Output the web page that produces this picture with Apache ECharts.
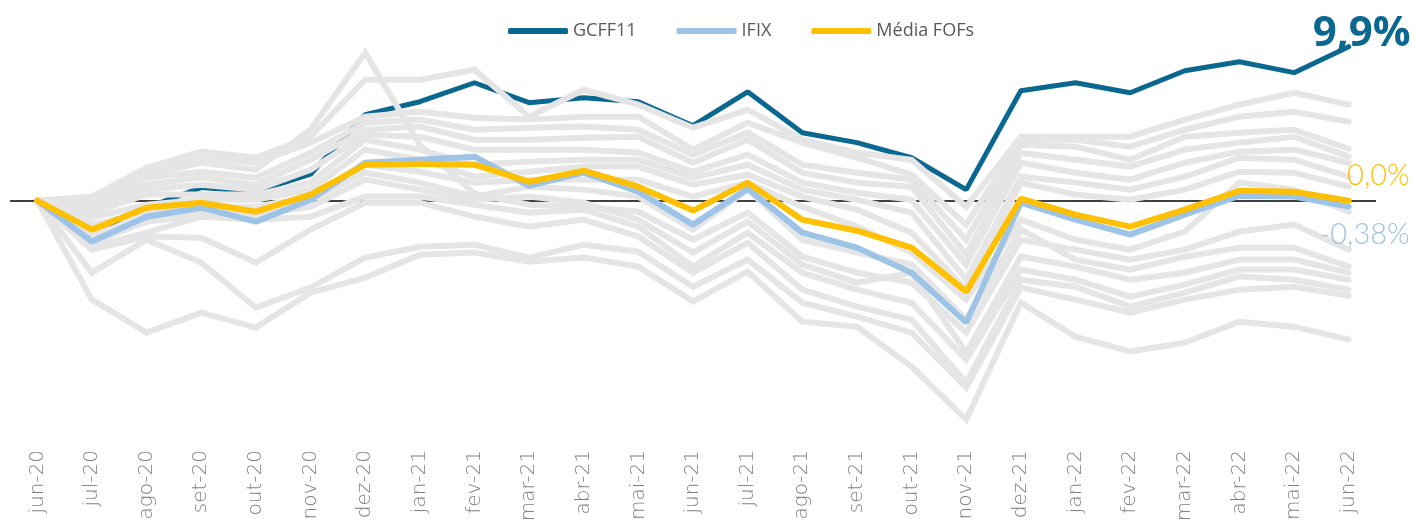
<!DOCTYPE html>
<html>
<head>
<meta charset="utf-8">
<script src="https://cdn.jsdelivr.net/npm/echarts@6/dist/echarts.min.js"></script>
<style>
  html, body { margin: 0; padding: 0; background: #fff; }
  #chart { width: 1415px; height: 527px; }
</style>
</head>
<body>
<div id="chart"></div>
<script>
// meses (eixo x)
const months = ['jun-20','jul-20','ago-20','set-20','out-20','nov-20','dez-20','jan-21','fev-21','mar-21','abr-21','mai-21',
  'jun-21','jul-21','ago-21','set-21','out-21','nov-21','dez-21','jan-22','fev-22','mar-22','abr-22','mai-22','jun-22']

// rentabilidade acumulada (%)
const gcff11 = [0, -1.99, -0.45, 0.84, 0.58, 1.7, 5.53, 6.36, 7.58, 6.30, 6.62, 6.36, 4.82, 7.0, 4.37, 3.73, 2.76, 0.71, 7.07, 7.58, 6.94, 8.35, 8.93, 8.23, 9.9]
const ifix = [0, -2.63, -1.03, -0.45, -1.35, 0.06, 2.44, 2.63, 2.83, 0.96, 1.80, 0.58, -1.54, 0.77, -2.06, -3.02, -4.63, -7.84, -0.13, -1.22, -2.18, -0.90, 0.32, 0.26, -0.38]
const mediaFofs = [0, -1.86, -0.45, -0.13, -0.71, 0.39, 2.31, 2.38, 2.31, 1.22, 1.93, 0.90, -0.64, 1.16, -1.22, -1.93, -3.02, -5.85, 0.13, -0.90, -1.67, -0.58, 0.64, 0.58, 0.0]

// rótulos no fim das linhas
const endLabels = { 'GCFF11': '9,9%', 'IFIX': '-0,38%', 'Média FOFs': '0,0%' }

// demais FOFs (linhas cinzas)
const fof01 = [0, 0.26, 2.12, 3.15, 2.76, 4.11, 7.78, 7.78, 8.42, 5.40, 7.13, 6.17, 4.69, 5.85, 3.92, 3.08, 2.63, -0.39, 4.11, 4.11, 4.11, 5.21, 6.17, 6.94, 6.17]
const fof02 = [0, 0.26, 1.86, 2.76, 2.44, 3.73, 5.40, 5.72, 5.33, 5.21, 5.40, 5.40, 3.28, 5.01, 3.73, 2.76, 1.67, -1.54, 3.92, 3.92, 3.47, 4.56, 5.40, 5.72, 5.08]
const fof03 = [0, -0.13, 1.48, 1.86, 1.48, 3.08, 5.01, 5.21, 4.56, 4.69, 4.76, 4.56, 2.96, 4.37, 2.31, 1.80, 1.35, -2.51, 3.60, 3.47, 2.63, 4.11, 4.37, 4.56, 3.34]
const fof04 = [0, -0.26, 1.03, 1.48, 1.03, 2.63, 4.56, 4.76, 3.92, 3.92, 4.05, 4.11, 2.44, 3.92, 1.80, 1.16, 0.90, -3.47, 3.08, 2.63, 2.19, 3.28, 3.73, 4.11, 2.83]
const fof05 = [0, -0.58, 0.71, 1.03, 0.71, 1.99, 4.24, 4.11, 3.28, 3.28, 3.28, 3.08, 1.86, 2.96, 1.16, 0.51, 0.06, -4.11, 2.44, 1.80, 1.35, 2.44, 3.15, 3.28, 2.44]
const fof06 = [0, -0.77, 0.39, 0.39, 0.39, 1.16, 3.92, 3.28, 2.31, 2.51, 2.63, 2.63, 1.48, 2.31, 0.71, 0.06, -0.77, -5.08, 1.54, 1.16, 0.71, 1.54, 2.76, 2.63, 1.54]
const fof07 = [0, -1.09, -0.26, 0.06, 0.06, 0.71, 3.28, 2.63, 1.54, 1.86, 2.19, 2.19, 1.03, 1.67, 0.26, -0.58, -2.06, -5.72, 1.16, 0.39, 0.06, 0.71, 1.86, 1.80, 0.90]
const fof08 = [0, -1.54, -0.77, -0.39, -0.39, 0.26, 2.31, 1.86, 1.16, 1.35, 1.35, 1.35, 0.26, 1.16, -0.39, -1.67, -3.34, -6.36, -1.22, -2.51, -3.15, -1.99, 1.16, 0.71, -0.71]
const fof09 = [0, -2.19, -1.09, -0.58, -0.58, 0.06, 1.80, 1.16, 0.26, 0.90, 0.71, 0.26, -1.86, 0.71, -2.51, -3.34, -4.11, -7.65, -1.86, -3.79, -4.43, -3.60, -3.02, -3.02, -4.24]
const fof10 = [0, -2.70, -1.35, -0.90, -0.90, -0.39, 1.35, 0.71, 0.06, 0.26, -0.13, -1.22, -3.34, -1.35, -4.11, -5.27, -4.63, -9.77, -3.60, -4.24, -5.08, -4.63, -3.79, -3.79, -4.63]
const fof11 = [0, -2.96, -2.06, -1.03, -1.22, -1.03, 0.26, 0.26, -0.26, -0.77, -0.58, -1.67, -4.24, -2.06, -4.63, -5.72, -6.56, -10.22, -4.43, -5.08, -6.17, -5.40, -4.43, -4.43, -5.08]
const fof12 = [0, -3.15, -2.31, -2.38, -3.98, -1.86, -0.13, -0.13, -1.03, -1.67, -1.22, -2.31, -4.63, -2.70, -5.72, -6.81, -7.65, -11.70, -5.08, -5.53, -6.81, -5.91, -4.88, -5.08, -5.72]
const fof13 = [0, -4.63, -2.51, -3.98, -6.88, -5.59, -3.66, -2.96, -2.83, -3.66, -2.83, -3.28, -5.53, -3.79, -6.56, -7.46, -8.48, -12.02, -5.59, -6.36, -7.20, -6.36, -5.72, -5.53, -6.11]
const fof14 = [0, -6.36, -8.48, -7.20, -8.16, -5.91, -4.95, -3.47, -3.34, -3.92, -3.66, -4.24, -6.49, -4.56, -7.78, -8.10, -10.67, -14.07, -6.56, -8.74, -9.70, -9.13, -7.78, -8.10, -8.93]
const fof15 = [0, 0.06, 1.67, 2.44, 1.99, 4.56, 9.51, 3.60, 0.45, -0.26, -0.39, -0.71, -2.51, -0.77, -3.60, -4.63, -5.27, -8.48, -2.51, -3.15, -3.79, -3.15, -1.99, -1.54, -3.15]

const outrosFofs = [fof01, fof02, fof03, fof04, fof05, fof06, fof07, fof08, fof09, fof10, fof11, fof12, fof13, fof14, fof15]

const chart = echarts.init(document.getElementById('chart'))

const greySeries = outrosFofs.map((data, i) => ({
    name: 'FOF ' + (i + 1),
    type: 'line',
    data: data,
    symbol: 'none',
    silent: true,
    lineStyle: { color: '#e5e5e5', width: 6, cap: 'round', join: 'miter' }
}))

const mainLine = (name, data, color, width, labelStyle) => ({
    name: name,
    type: 'line',
    data: data,
    symbol: 'none',
    lineStyle: { color: color, width: width, cap: 'round' },
    itemStyle: { color: color },
    endLabel: Object.assign({
        show: true,
        formatter: () => endLabels[name],
        color: color,
        position: 'right',
        distance: 0,
        align: 'right'
    }, labelStyle)
})

const option = {
    animation: false,
    grid: { left: 10, right: 39, top: 14, bottom: 93, containLabel: false },
    legend: {
        data: ['GCFF11', 'IFIX', 'Média FOFs'],
        left: 503,
        top: 17,
        icon: 'roundRect',
        itemWidth: 60,
        itemHeight: 6,
        itemGap: 40,
        textStyle: { color: '#595959', fontSize: 18, fontFamily: 'Open Sans' }
    },
    xAxis: {
        type: 'category',
        data: months,
        boundaryGap: true,
        axisLine: { show: false },
        axisTick: { show: false },
        axisLabel: {
            rotate: 90,
            margin: 16,
            interval: 0,
            color: '#808080',
            fontSize: 20,
            fontFamily: 'DejaVu Sans',
            fontWeight: 200
        }
    },
    yAxis: {
        type: 'value',
        min: -15,
        max: 12,
        show: false,
        splitLine: { show: false }
    },
    series: [
        Object.assign(mainLine('GCFF11', gcff11, '#0a6890', 5, {
            offset: [62, -13], fontSize: 42, fontWeight: 'bold', fontFamily: 'Open Sans'
        }), {
            markLine: {
                z: 1,
                silent: true,
                symbol: 'none',
                label: { show: false },
                lineStyle: { color: '#000', width: 1.5, type: 'solid' },
                data: [{ yAxis: 0 }]
            }
        }),
        ...greySeries,
        mainLine('IFIX', ifix, '#9dc3e6', 6, {
            offset: [61, 28], fontSize: 29, fontWeight: 300, fontFamily: 'Lato'
        }),
        mainLine('Média FOFs', mediaFofs, '#ffc000', 6, {
            offset: [61, -25], fontSize: 29, fontWeight: 300, fontFamily: 'Lato'
        })
    ]
}

chart.setOption(option)
</script>
</body>
</html>
